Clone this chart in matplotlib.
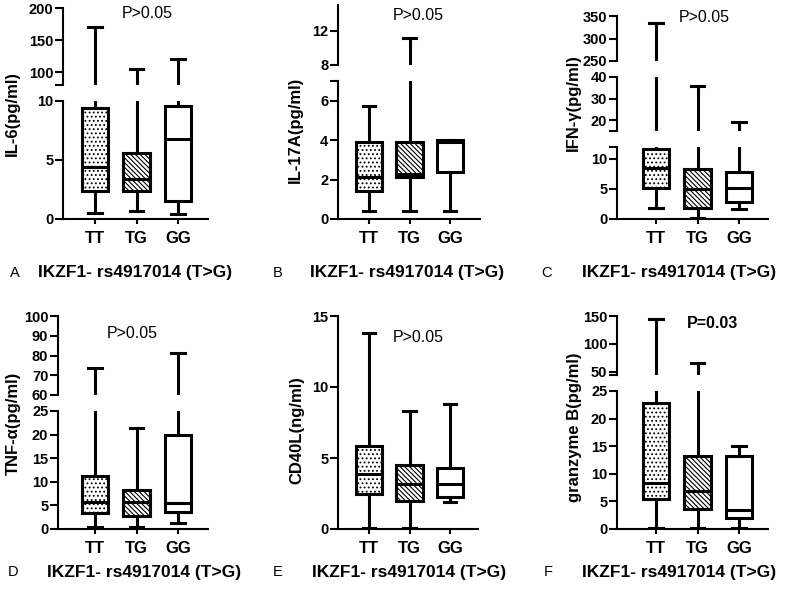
import matplotlib
matplotlib.use('Agg')
import matplotlib.pyplot as plt

plt.rcParams['font.family'] = ['Liberation Sans', 'DejaVu Sans']
plt.rcParams['hatch.linewidth'] = 0.8

W, H = 800, 597

genotypes = ['TT', 'TG', 'GG']
xlabel_text = 'IKZF1- rs4917014 (T>G)'

# box statistics per genotype (TT, TG, GG): whisker low, Q1, median, Q3, whisker high
il6_low = [0.5, 0.7, 0.4]
il6_q1 = [2.4, 2.4, 1.5]
il6_med = [4.4, 3.4, 6.8]
il6_q3 = [9.4, 5.6, 9.6]
il6_high = [170, 105, 120]

il17a_low = [0.4, 0.4, 0.4]
il17a_q1 = [1.4, 2.15, 2.38]
il17a_med = [2.15, 2.3, 3.9]
il17a_q3 = [3.9, 3.9, 4.0]
il17a_high = [5.75, 11.2, 4.0]

ifng_low = [1.8, 0.2, 1.7]
ifng_q1 = [5.2, 1.9, 2.8]
ifng_med = [8.5, 5.0, 5.1]
ifng_q3 = [11.7, 8.3, 7.9]
ifng_high = [335, 36, 19.2]

tnfa_low = [0.5, 0.5, 1.3]
tnfa_q1 = [3.3, 2.8, 3.7]
tnfa_med = [5.8, 5.7, 5.5]
tnfa_q3 = [11.2, 8.3, 20.0]
tnfa_high = [73.5, 21.3, 81.2]

cd40l_low = [0.05, 0.05, 1.92]
cd40l_q1 = [2.46, 1.97, 2.23]
cd40l_med = [3.85, 3.2, 3.2]
cd40l_q3 = [5.87, 4.53, 4.32]
cd40l_high = [13.8, 8.3, 8.8]

gzmb_low = [0.2, 0.2, 0.2]
gzmb_q1 = [5.4, 3.7, 2.0]
gzmb_med = [8.4, 6.9, 3.4]
gzmb_q3 = [22.8, 13.2, 13.2]
gzmb_high = [145, 66, 15]

panels = [
    dict(letter='A', ylabel='IL-6(pg/ml)', ptext='P>0.05', pbold=False,
         data=(il6_low, il6_q1, il6_med, il6_q3, il6_high),
         x0=63, x1=208, tt=95, gg=178,
         segs=[(80, 200, 85, 8, [100, 150, 200], [80]),
               (0, 10, 219, 101, [0, 5, 10], [])],
         ylab=(12, 113), ppos=(147, 13), lab=(15, 38, 273)),
    dict(letter='B', ylabel='IL-17A(pg/ml)', ptext='P>0.05', pbold=False,
         data=(il17a_low, il17a_q1, il17a_med, il17a_q3, il17a_high),
         x0=338, x1=480, tt=369, gg=450,
         segs=[(8, 15, 65, 5, [8, 12], []),
               (0, 7, 219, 81, [0, 2, 4, 6], [7])],
         ylab=(295, 130), ppos=(418, 15), lab=(278, 310, 273)),
    dict(letter='C', ylabel='IFN-γ(pg/ml)', ptext='P>0.05', pbold=False,
         data=(ifng_low, ifng_q1, ifng_med, ifng_q3, ifng_high),
         x0=617, x1=768, tt=656, gg=739,
         segs=[(250, 350, 61, 16, [250, 300, 350], []),
               (15, 40, 131, 77, [20, 30, 40], [15]),
               (0, 12, 219, 147, [0, 5, 10], [12])],
         ylab=(573, 103), ppos=(704, 17), lab=(547, 582, 273)),
    dict(letter='D', ylabel='TNF-α(pg/ml)', ptext='P>0.05', pbold=False,
         data=(tnfa_low, tnfa_q1, tnfa_med, tnfa_q3, tnfa_high),
         x0=58, x1=208, tt=95, gg=178,
         segs=[(60, 100, 395, 316, [60, 70, 80, 90, 100], []),
               (0, 25, 529, 411, [0, 5, 10, 15, 20, 25], [])],
         ylab=(13, 423), ppos=(132, 333), lab=(13, 47, 572)),
    dict(letter='E', ylabel='CD40L(ng/ml)', ptext='P>0.05', pbold=False,
         data=(cd40l_low, cd40l_q1, cd40l_med, cd40l_q3, cd40l_high),
         x0=338, x1=478, tt=369, gg=450,
         segs=[(0, 15, 529, 316, [0, 5, 10, 15], [])],
         ylab=(297, 430), ppos=(418, 337), lab=(278, 312, 572)),
    dict(letter='F', ylabel='granzyme B(pg/ml)', ptext='P=0.03', pbold=True,
         data=(gzmb_low, gzmb_q1, gzmb_med, gzmb_q3, gzmb_high),
         x0=617, x1=768, tt=656, gg=739,
         segs=[(44, 150, 375, 316, [50, 100, 150], [44]),
               (0, 25, 529, 391, [0, 5, 10, 15, 20, 25], [])],
         ylab=(575, 427), ppos=(712, 323), lab=(548, 582, 572)),
]

# dotted fill for TT, dense back-slash hatch for TG, plain for GG
hatches = ['....', chr(92) * 7, '']

fig = plt.figure(figsize=(W / 100, H / 100), dpi=100, facecolor='white')


def fx(x):
    return x / W


def fy(y):
    return 1 - y / H


for p in panels:
    sp = (p['gg'] - p['tt']) / 2
    xlim = (1 - (p['tt'] - p['x0']) / sp, 3 + (p['x1'] - p['gg']) / sp)
    lo, q1, med, q3, hi = p['data']
    stats = [dict(whislo=lo[i], q1=q1[i], med=med[i], q3=q3[i], whishi=hi[i], fliers=[])
             for i in range(len(genotypes))]
    nseg = len(p['segs'])
    for k, (ylo, yhi, pb, pt, ticks, stubs) in enumerate(p['segs']):
        ax = fig.add_axes([fx(p['x0']), fy(pb), (p['x1'] - p['x0']) / W, (pb - pt) / H])
        ax.set_facecolor('none')
        res = ax.bxp(stats, positions=[1, 2, 3], widths=0.65, capwidths=0.32,
                     patch_artist=True, showfliers=False, manage_ticks=False,
                     boxprops=dict(facecolor='white', edgecolor='black', linewidth=2.2,
                                   joinstyle='miter'),
                     whiskerprops=dict(color='black', linewidth=2.2),
                     capprops=dict(color='black', linewidth=2.2),
                     medianprops=dict(color='black', linewidth=2.2))
        for box, h in zip(res['boxes'], hatches):
            box.set_hatch(h)
        ax.set_xlim(*xlim)
        ax.set_ylim(ylo, yhi)
        ax.set_yticks(ticks)
        ax.set_yticklabels([str(t) for t in ticks], fontsize=10.5, fontweight='bold')
        ax.set_yticks(stubs, minor=True)
        ax.tick_params(axis='y', which='both', length=5.5, width=1.5, pad=1.5)
        for s in ['top', 'right']:
            ax.spines[s].set_visible(False)
        ax.spines['left'].set_linewidth(1.5)
        if k == nseg - 1:
            ax.spines['bottom'].set_linewidth(1.5)
            ax.set_xticks([1, 2, 3])
            ax.set_xticklabels(genotypes, fontsize=12, fontweight='bold')
            ax.tick_params(axis='x', length=3.5, width=1.5, pad=5)
        else:
            ax.spines['bottom'].set_visible(False)
            ax.set_xticks([])

    fig.text(fx(p['ylab'][0]), fy(p['ylab'][1]), p['ylabel'], rotation=90,
             ha='center', va='center', fontsize=12, fontweight='bold')
    fig.text(fx(p['ppos'][0]), fy(p['ppos'][1]), p['ptext'], ha='center', va='center',
             fontsize=11.5, fontweight='bold' if p['pbold'] else 'normal')
    fig.text(fx(p['lab'][0]), fy(p['lab'][2]), p['letter'], ha='center', va='center',
             fontsize=10.5)
    fig.text(fx(p['lab'][1]), fy(p['lab'][2]), xlabel_text, ha='left', va='center',
             fontsize=12.5, fontweight='bold')

fig.savefig('out.png', dpi=100, facecolor='white')
